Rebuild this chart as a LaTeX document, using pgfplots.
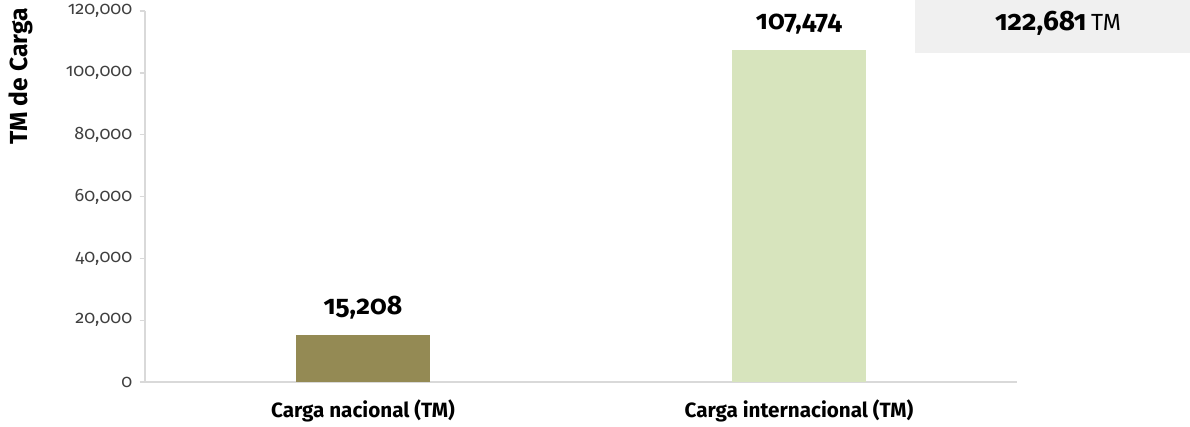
\documentclass[border=0pt]{standalone}
\usepackage{pgfplots}
\pgfplotsset{compat=1.18}
\usepackage{fontspec}
\setmainfont{Fira Sans}[Numbers=OldStyle]
\definecolor{barA}{HTML}{948A54}
\definecolor{barB}{HTML}{D7E4BD}
\definecolor{boxg}{HTML}{F0F0F0}
\definecolor{axg}{HTML}{D9D9D9}
\definecolor{tickc}{HTML}{404040}
\begin{document}
\begin{tikzpicture}
\useasboundingbox (-108.75pt,-33pt) rectangle (783.75pt,286.5pt);
\fill[boxg] (577.5pt,246.75pt) rectangle (783.75pt,286.5pt);
\node[anchor=base] at (684.75pt,264pt) {\fontsize{21}{24}\selectfont\bfseries 122,681\,\mdseries\fontsize{17.5}{20}\selectfont TM};
\node[rotate=90, anchor=north east, inner sep=0pt] at (-102pt,280.5pt) {\fontsize{18.5}{22}\selectfont\bfseries TM de Carga};
\begin{axis}[at={(0,0)}, anchor=south west, scale only axis,
  width=654pt, height=278.25pt,
  xmin=-0.5, xmax=1.5, ymin=0, ymax=120000,
  ytick={0,20000,40000,60000,80000,100000,120000},
  yticklabels={0,{20,000},{40,000},{60,000},{80,000},{100,000},{120,000}},
  xtick={0,1}, xticklabels={Carga nacional (TM), Carga internacional (TM)},
  xticklabel style={font=\fontsize{15.5}{18}\selectfont\bfseries, text=black, yshift=-6pt},
  yticklabel style={font=\fontsize{13.5}{16}\selectfont, text=tickc, xshift=-2pt},
  scaled y ticks=false,
  axis x line*=bottom, axis y line*=left,
  x axis line style={axg, line width=1pt, -},
  y axis line style={axg, line width=1pt, -},
  x tick style={draw=none},
  y tick style={axg, line width=1pt},
  tick align=outside, major tick length=4pt,
  ybar, bar width=101pt,
  point meta=explicit symbolic,
  nodes near coords,
  every node near coord/.append style={font=\fontsize{20}{24}\selectfont\bfseries, text=black, yshift=8pt},
  clip=false,
]
\addplot[fill=barA, draw=none, bar shift=0pt] coordinates {(0,15208) [15,208]};
\addplot[fill=barB, draw=none, bar shift=0pt] coordinates {(1,107474) [107,474]};
\end{axis}
\end{tikzpicture}
\end{document}
